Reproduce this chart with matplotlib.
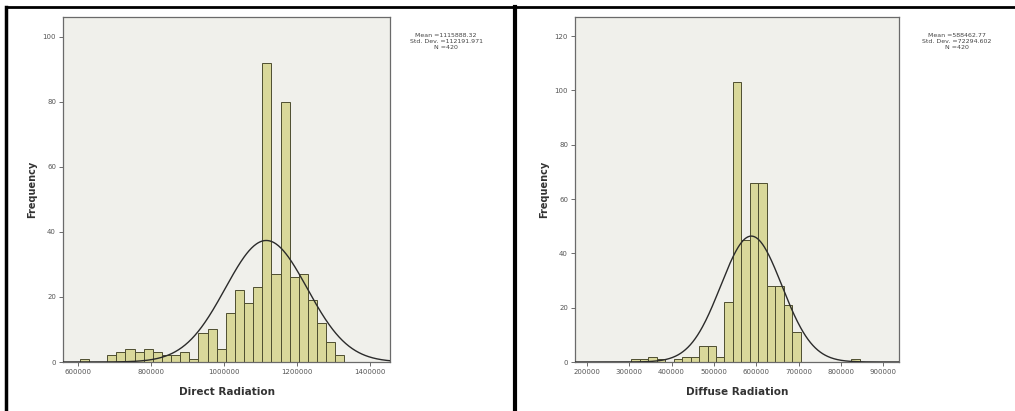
import numpy as np
import matplotlib
matplotlib.use('Agg')
import matplotlib.pyplot as plt
from matplotlib.lines import Line2D

# Direct radiation histogram (bin width 25000)
direct_edges_start = 605000
direct_bin = 25000
direct_counts = [1, 0, 0,
                 2, 3, 4, 3, 4, 3, 2, 2, 3, 1,
                 9, 10, 4, 15, 22, 18, 23, 92, 27, 80, 26, 27, 19, 12, 6, 2]
direct_stats = (1115888.32, 112191.971, 420)
direct_xticks = [600000, 800000, 1000000, 1200000, 1400000]
direct_yticks = [0, 20, 40, 60, 80, 100]

# Diffuse radiation histogram (bin width 20000)
diffuse_edges_start = 305000
diffuse_bin = 20000
diffuse_counts = [1, 1, 2, 1, 0, 1, 2, 2, 6, 6, 2, 22, 103, 45, 66, 66, 28, 28, 21, 11,
                  0, 0, 0, 0, 0, 0, 1]
diffuse_stats = (588462.77, 72294.602, 420)
diffuse_xticks = [200000, 300000, 400000, 500000, 600000, 700000, 800000, 900000]
diffuse_yticks = [0, 20, 40, 60, 80, 100, 120]

W, H = 1015, 411
fig = plt.figure(figsize=(W / 100, H / 100), dpi=100)
fig.patch.set_facecolor('white')


def px_box(x0, x1, ytop, ybot):
    return [x0 / W, 1 - ybot / H, (x1 - x0) / W, (ybot - ytop) / H]


def draw_hist(ax, start, bw, counts, stats, xticks, yticks, xlim, ylim, xlabel):
    ax.set_facecolor('#F0F0EB')
    lefts = start + bw * np.arange(len(counts))
    ax.bar(lefts, counts, width=bw, align='edge', color='#D9D89A',
           edgecolor='#4E4E30', linewidth=0.7, zorder=2)
    mean, sd, n = stats
    xs = np.linspace(xlim[0], xlim[1], 400)
    ys = n * bw / (sd * np.sqrt(2 * np.pi)) * np.exp(-0.5 * ((xs - mean) / sd) ** 2)
    ax.plot(xs, ys, color='#2B2B2B', lw=1.0, zorder=3)
    ax.set_xlim(xlim)
    ax.set_ylim(ylim)
    ax.set_xticks(xticks)
    ax.set_xticklabels([str(t) for t in xticks])
    ax.set_yticks(yticks)
    ax.tick_params(labelsize=5, colors='#555555', length=3, width=0.6, pad=2)
    for s in ax.spines.values():
        s.set_color('#6A6A6A')
        s.set_linewidth(0.9)
    ax.set_xlabel(xlabel, fontsize=7.5, fontweight='bold', color='#333333', labelpad=9)
    ax.set_ylabel('Frequency', fontsize=7, fontweight='bold', color='#333333', labelpad=4)


ax1 = fig.add_axes(px_box(63, 390, 17, 362))
draw_hist(ax1, direct_edges_start, direct_bin, direct_counts, direct_stats,
          direct_xticks, direct_yticks, (559000, 1455000), (0, 106), 'Direct Radiation')

ax2 = fig.add_axes(px_box(575, 899, 17, 362))
draw_hist(ax2, diffuse_edges_start, diffuse_bin, diffuse_counts, diffuse_stats,
          diffuse_xticks, diffuse_yticks, (171600, 937600), (0, 127), 'Diffuse Radiation')

# stats boxes
for cx, st in [(446, direct_stats), (957, diffuse_stats)]:
    txt = 'Mean =%.2f\nStd. Dev. =%.3f\nN =%d' % st
    fig.text(cx / W, 1 - 33 / H, txt, ha='center', va='top', fontsize=4.5,
             color='#444444', linespacing=1.3)

# black frame lines of the scanned page
frame = [((6, 6), (7, 411), 2.5), ((6, 1015), (7, 7), 2.0), ((515, 515), (7, 411), 3.0)]
for xs, ys, lw in frame:
    fig.add_artist(Line2D([x / W for x in xs], [1 - y / H for y in ys],
                          transform=fig.transFigure, color='black', lw=lw))

fig.savefig('out.png', dpi=100)
